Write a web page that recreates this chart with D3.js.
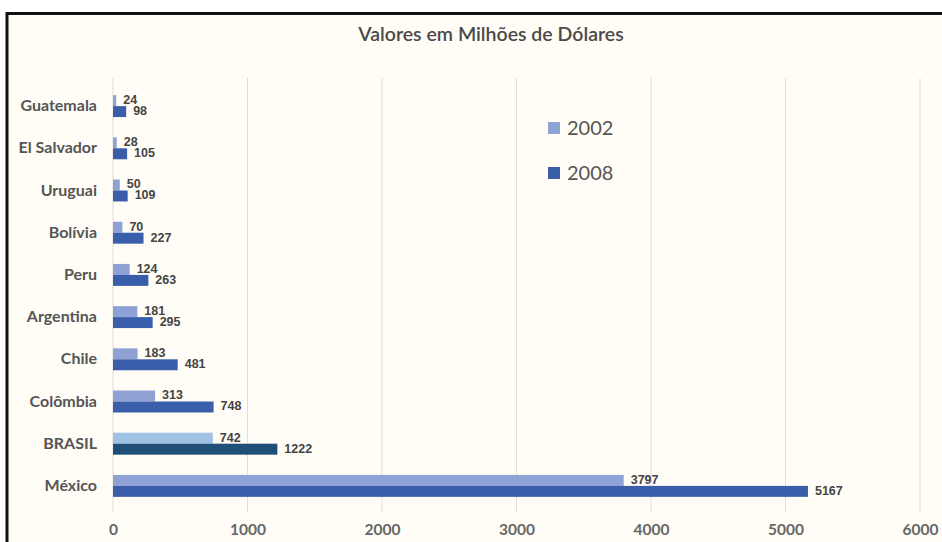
<!DOCTYPE html>
<html>
<head>
<meta charset="utf-8">
<script src="https://cdn.jsdelivr.net/npm/d3@7"></script>
<style>
  html, body { margin: 0; padding: 0; background: #ffffff; }
  svg { display: block; }
</style>
</head>
<body>
<svg id="chart" width="942" height="542"></svg>
<script>
const categories = ["Guatemala", "El Salvador", "Uruguai", "Bolívia", "Peru", "Argentina", "Chile", "Colômbia", "BRASIL", "México"];
const values2002 = [24, 28, 50, 70, 124, 181, 183, 313, 742, 3797];
const values2008 = [98, 105, 109, 227, 263, 295, 481, 748, 1222, 5167];
const seriesNames = ["2002", "2008"];
const xTicks = [0, 1000, 2000, 3000, 4000, 5000, 6000];

const svg = d3.select("#chart");
const W = 942, H = 542;
const font = "Lato, 'Open Sans', sans-serif";

// frame / background
svg.append("rect").attr("x", 0).attr("y", 0).attr("width", W).attr("height", H).attr("fill", "#ffffff");
svg.append("rect").attr("x", 7).attr("y", 13.5).attr("width", W + 20).attr("height", H)
  .attr("fill", "#fffdf6").attr("stroke", "#111").attr("stroke-width", 3);

const x = d3.scaleLinear().domain([0, 6000]).range([113, 920]);
const y = d3.scaleBand().domain(categories).range([85, 507]).paddingInner(0.48).paddingOuter(0.24);
const ySub = d3.scaleBand().domain(seriesNames).range([0, y.bandwidth()]);

const colors = {"2002": "#8fa2d6", "2008": "#3b5eab"};
const brasilColors = {"2002": "#9fc1e4", "2008": "#1f4e79"};

// gridlines
svg.append("g").selectAll("line").data(xTicks).join("line")
  .attr("x1", d => x(d)).attr("x2", d => x(d))
  .attr("y1", 78).attr("y2", 512)
  .attr("stroke", "#e3ddd6").attr("stroke-width", 1);

// title
svg.append("text").attr("x", 491).attr("y", 41).attr("text-anchor", "middle")
  .attr("font-family", font).attr("font-size", 19.5).attr("font-weight", 600).attr("fill", "#4a4a4a")
  .text("Valores em Milhões de Dólares");

// x axis (ticks only, no line)
const xAxis = svg.append("g").attr("transform", "translate(0,522)")
  .call(d3.axisBottom(x).tickValues(xTicks).tickSize(0).tickPadding(0).tickFormat(d3.format("d")));
xAxis.select(".domain").remove();
xAxis.selectAll("text").attr("font-family", font).attr("font-size", 15.5).attr("font-weight", 700)
  .attr("fill", "#666").attr("dy", "0.85em");

// y axis
const yAxis = svg.append("g").attr("transform", "translate(97,0)")
  .call(d3.axisLeft(y).tickSize(0).tickPadding(0));
yAxis.select(".domain").remove();
yAxis.selectAll("text").attr("font-family", font).attr("font-size", 16).attr("font-weight", 700)
  .attr("fill", "#555");

// bars
const rows = categories.map((c, i) => ({cat: c, vals: [{s: "2002", v: values2002[i]}, {s: "2008", v: values2008[i]}]}));
const g = svg.append("g").selectAll("g").data(rows).join("g")
  .attr("transform", d => `translate(0,${y(d.cat)})`);
g.selectAll("rect").data(d => d.vals.map(v => ({...v, cat: d.cat}))).join("rect")
  .attr("x", x(0)).attr("y", d => ySub(d.s))
  .attr("width", d => x(d.v) - x(0)).attr("height", ySub.bandwidth())
  .attr("fill", d => d.cat === "BRASIL" ? brasilColors[d.s] : colors[d.s]);
g.selectAll("text").data(d => d.vals).join("text")
  .attr("x", d => x(d.v) + 7)
  .attr("y", d => ySub(d.s) + ySub.bandwidth() / 2 - 1)
  .attr("dy", "0.35em")
  .attr("font-family", "'Liberation Sans', Arial, sans-serif").attr("font-size", 12.5).attr("font-weight", 700)
  .attr("fill", "#444").text(d => d.v);

// legend
const leg = svg.append("g").selectAll("g").data(seriesNames).join("g")
  .attr("transform", (d, i) => `translate(548,${128 + i * 45})`);
leg.append("rect").attr("x", 0).attr("y", -6).attr("width", 12).attr("height", 12)
  .attr("fill", d => colors[d]);
leg.append("text").attr("x", 19).attr("y", 0).attr("dy", "0.36em")
  .attr("font-family", font).attr("font-size", 20).attr("fill", "#555").text(d => d);
</script>
</body>
</html>
